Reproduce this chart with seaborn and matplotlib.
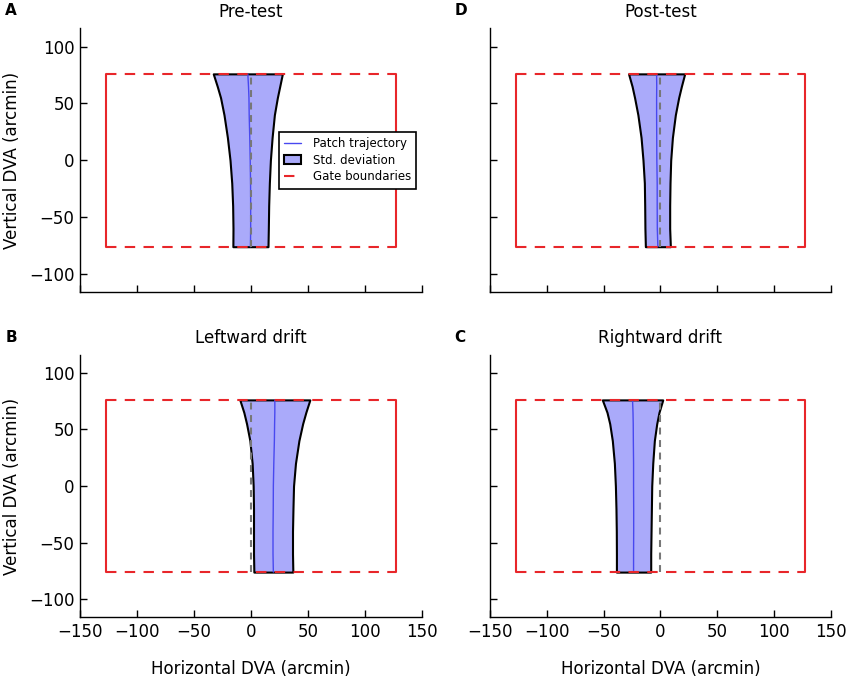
import matplotlib
matplotlib.use("Agg")
import matplotlib.pyplot as plt
import seaborn as sns

# vertical positions (arcmin) at which the trajectory was sampled
y_levels = [-76, -60, -40, -20, 0, 20, 40, 55, 65, 76]

# mean horizontal position and std. deviation per condition
pre_mean = [-0.5, -0.3, -0.3, -0.4, -0.7, -1.1, -1.6, -1.8, -2.2, -2.8]
pre_sd = [15.4, 15.5, 15.8, 16.5, 17.7, 19.6, 22.1, 24.9, 27.4, 30.3]

post_mean = [-2.2, -2.7, -2.8, -2.8, -3.1, -3.2, -3.3, -3.3, -3.2, -3.3]
post_sd = [11.0, 10.9, 11.0, 11.3, 12.2, 13.8, 16.5, 19.4, 21.7, 24.7]

left_mean = [19.6, 19.3, 19.3, 19.5, 19.6, 20.0, 20.5, 20.7, 20.9, 20.9]
left_sd = [17.1, 17.1, 17.1, 17.3, 17.7, 19.0, 21.5, 24.6, 27.2, 30.7]

right_mean = [-23.6, -23.6, -23.5, -23.5, -23.6, -23.6, -23.8, -23.9, -24.1, -24.5]
right_sd = [15.1, 15.1, 15.3, 15.6, 16.0, 16.9, 18.5, 20.7, 22.9, 26.6]

gate_x = [-127, 127]
gate_y = [-76, 76]

x_ticks = [-150, -100, -50, 0, 50, 100, 150]
y_ticks = [-100, -50, 0, 50, 100]

sns.set_style("ticks")
plt.rcParams["font.family"] = ["DejaVu Sans"]
plt.rcParams["lines.scale_dashes"] = False
plt.rcParams["text.color"] = "black"
plt.rcParams["axes.labelcolor"] = "black"
plt.rcParams["axes.edgecolor"] = "black"
plt.rcParams["xtick.color"] = "black"
plt.rcParams["ytick.color"] = "black"


def draw_panel(ax, mean, sd, title, letter, show_x, show_y, legend=False):
    lo = [m - s for m, s in zip(mean, sd)]
    hi = [m + s for m, s in zip(mean, sd)]
    band = ax.fill_betweenx(y_levels, lo, hi, facecolor="#aaaafa",
                            edgecolor="black", linewidth=1.5, zorder=2,
                            label="Std. deviation")
    sns.lineplot(x=mean, y=y_levels, orient="y", sort=False, ax=ax,
                 color="#4848f0", linewidth=1.0, zorder=3,
                 label="Patch trajectory", legend=False)
    ax.plot([0, 0], gate_y, color="#777777", linestyle=(0, (5, 4)),
            linewidth=1.5, zorder=4)
    # gate: solid sides, dashed top/bottom
    for gx in gate_x:
        ax.plot([gx, gx], gate_y, color="#e8262a", linewidth=1.5, zorder=5)
    gate = None
    for gy in gate_y:
        gate, = ax.plot(gate_x, [gy, gy], color="#e8262a", linewidth=1.5,
                        linestyle=(0, (7.5, 6)), zorder=5,
                        label="Gate boundaries")

    ax.set_xlim(-150, 150)
    ax.set_ylim(-116, 116)
    ax.set_xticks(x_ticks)
    ax.set_yticks(y_ticks)
    ax.tick_params(direction="in", length=5, width=1, labelsize=12, pad=4)
    sns.despine(ax=ax)
    for sp in ax.spines.values():
        sp.set_linewidth(1)
    if not show_x:
        ax.set_xticklabels([])
    else:
        ax.set_xlabel("Horizontal DVA (arcmin)", fontsize=12, labelpad=14)
    if not show_y:
        ax.set_yticklabels([])
    else:
        ax.set_ylabel("Vertical DVA (arcmin)", fontsize=12, labelpad=6)
    ax.set_title(title, fontsize=12, pad=8)
    ax.text(-0.218 if show_y else -0.105, 1.066, letter, transform=ax.transAxes,
            fontsize=11, fontweight="bold", va="center", ha="left")

    if legend:
        line = ax.get_lines()[0]
        ax.legend([line, band, gate],
                  ["Patch trajectory", "Std. deviation", "Gate boundaries"],
                  loc="center right", fontsize=8.5, fancybox=False,
                  edgecolor="black", framealpha=1, handlelength=1.4,
                  handleheight=0.8, handletextpad=1.0, borderpad=0.45,
                  labelspacing=0.3, borderaxespad=0.5)
        ax.get_legend().get_frame().set_linewidth(1.2)


fig = plt.figure(figsize=(8.5, 6.79), dpi=100)
ax_a = fig.add_axes([0.0941, 0.5697, 0.4024, 0.3885])
ax_d = fig.add_axes([0.5765, 0.5697, 0.4008, 0.3885])
ax_b = fig.add_axes([0.0941, 0.0907, 0.4024, 0.3871])
ax_c = fig.add_axes([0.5765, 0.0907, 0.4008, 0.3871])

draw_panel(ax_a, pre_mean, pre_sd, "Pre-test", "A", False, True, legend=True)
draw_panel(ax_d, post_mean, post_sd, "Post-test", "D", False, False)
draw_panel(ax_b, left_mean, left_sd, "Leftward drift", "B", True, True)
draw_panel(ax_c, right_mean, right_sd, "Rightward drift", "C", True, False)

fig.savefig("out.png", dpi=100)
